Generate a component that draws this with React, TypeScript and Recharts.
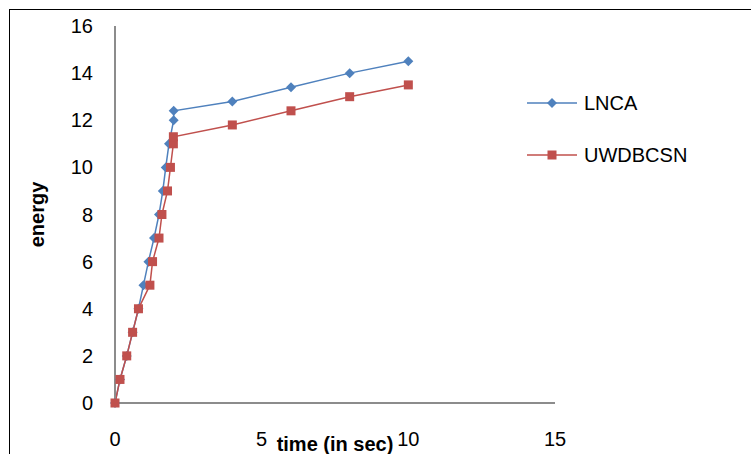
import React from 'react';
import { LineChart, Line, XAxis, YAxis, Legend } from 'recharts';

const lncaTime = [0, 0.17, 0.4, 0.6, 0.8, 0.97, 1.14, 1.33, 1.5, 1.63, 1.73, 1.84, 2.0, 2.0, 4, 6, 8, 10];
const lncaEnergy = [0, 1, 2, 3, 4, 5, 6, 7, 8, 9, 10, 11, 12, 12.4, 12.8, 13.4, 14, 14.5];
const uwdTime = [0, 0.17, 0.4, 0.6, 0.8, 1.19, 1.28, 1.5, 1.6, 1.79, 1.89, 1.99, 1.99, 4, 6, 8, 10];
const uwdEnergy = [0, 1, 2, 3, 4, 5, 6, 7, 8, 9, 10, 11, 11.3, 11.8, 12.4, 13, 13.5];
const xTicks = [0, 5, 10, 15];
const yTicks = [0, 2, 4, 6, 8, 10, 12, 14, 16];

const BLUE = '#4F81BD';
const RED = '#C0504D';
const FONT = '"Liberation Sans", Arial, sans-serif';

const lncaData = lncaTime.map((x, i) => ({ x, y: lncaEnergy[i] }));
const uwdData = uwdTime.map((x, i) => ({ x, y: uwdEnergy[i] }));

const Diamond = (props: any) => {
  const { cx, cy, index } = props;
  return (
    <path
      key={`d-${index}`}
      d={`M${cx},${cy - 5}L${cx + 5},${cy}L${cx},${cy + 5}L${cx - 5},${cy}Z`}
      fill={BLUE}
    />
  );
};

const Square = (props: any) => {
  const { cx, cy, index } = props;
  return <rect key={`s-${index}`} x={cx - 4.5} y={cy - 4.5} width={9} height={9} fill={RED} />;
};

const LegendBox = () => (
  <svg width={200} height={100}>
    <line x1={0} y1={18} x2={50} y2={18} stroke={BLUE} strokeWidth={1.5} />
    <path d="M25,13L30,18L25,23L20,18Z" fill={BLUE} />
    <text x={57} y={25} fontSize={20} fontFamily={FONT} fill="#000">LNCA</text>
    <line x1={0} y1={70} x2={50} y2={70} stroke={RED} strokeWidth={1.5} />
    <rect x={20.5} y={65.5} width={9} height={9} fill={RED} />
    <text x={57} y={77} fontSize={20} fontFamily={FONT} fill="#000">UWDBCSN</text>
  </svg>
);

export default function App() {
  return (
    <div style={{ position: 'absolute', left: 0, top: 0, width: 751, height: 454, background: '#fff', overflow: 'hidden' }}>
      <div
        style={{
          position: 'absolute',
          left: 9,
          top: 9,
          width: 800,
          height: 500,
          borderLeft: '1px solid #000',
          borderTop: '1px solid #000',
        }}
      />
      <LineChart
        width={751}
        height={454}
        margin={{ top: 26, right: 196, bottom: 0, left: 0 }}
        style={{ position: 'absolute', left: 0, top: 0 }}
      >
        <XAxis
          type="number"
          dataKey="x"
          domain={[0, 15]}
          ticks={xTicks}
          height={51}
          tickLine={false}
          tickSize={0}
          tickMargin={29}
          axisLine={{ stroke: '#8c8c8c', strokeWidth: 2 }}
          tick={{ fill: '#000', fontSize: 20, fontFamily: FONT }}
          label={{
            value: 'time (in sec)',
            position: 'insideBottom',
            offset: 3,
            style: { fill: '#000', fontSize: 20, fontWeight: 'bold', fontFamily: FONT },
          }}
        />
        <YAxis
          type="number"
          dataKey="y"
          domain={[0, 16]}
          ticks={yTicks}
          width={115}
          tickLine={false}
          tickSize={0}
          tickMargin={22}
          axisLine={{ stroke: '#8c8c8c', strokeWidth: 2 }}
          tick={{ fill: '#000', fontSize: 20, fontFamily: FONT }}
          label={{
            value: 'energy',
            angle: -90,
            position: 'insideLeft',
            dx: 32,
            style: { fill: '#000', fontSize: 20, fontWeight: 'bold', fontFamily: FONT, textAnchor: 'middle' },
          }}
        />
        <Legend
          layout="vertical"
          verticalAlign="middle"
          align="center"
          wrapperStyle={{ left: 527, top: 85, width: 200 }}
          content={() => <LegendBox />}
        />
        <Line
          data={lncaData}
          dataKey="y"
          name="LNCA"
          stroke={BLUE}
          strokeWidth={1.5}
          dot={Diamond}
          activeDot={false}
          isAnimationActive={false}
        />
        <Line
          data={uwdData}
          dataKey="y"
          name="UWDBCSN"
          stroke={RED}
          strokeWidth={1.5}
          dot={Square}
          activeDot={false}
          isAnimationActive={false}
        />
      </LineChart>
    </div>
  );
}
